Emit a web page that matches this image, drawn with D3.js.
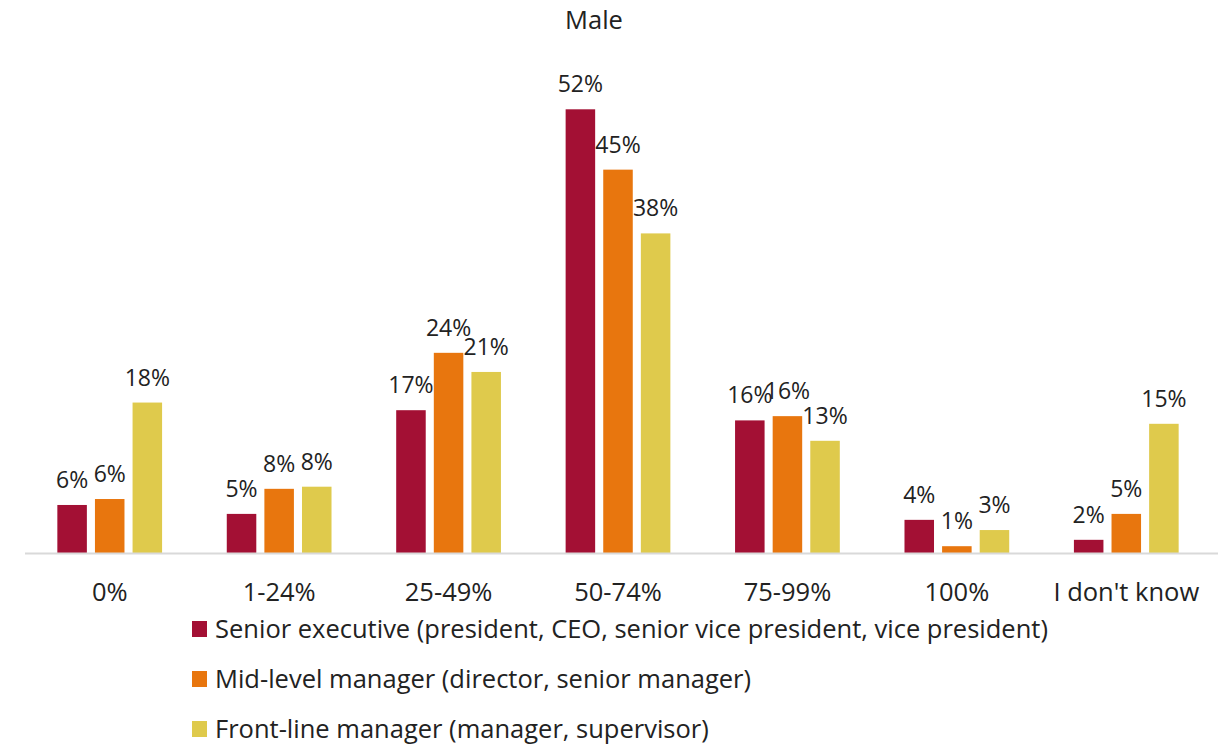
<!DOCTYPE html>
<html>
<head>
    <meta charset="utf-8">
    <script src="https://d3js.org/d3.v7.min.js"></script>
    <style>
        body { margin: 0; background: #fff; }
        text { font-family: "Open Sans", Lato, sans-serif; fill: #222; }
    </style>
</head>
<body>
    <svg id="mainsvg"></svg>
    <script type="text/javascript">
    // categories and series (share of respondents, %)
    const categories = ["0%", "1-24%", "25-49%", "50-74%", "75-99%", "100%", "I don't know"];
    const seriesNames = [
        "Senior executive (president, CEO, senior vice president, vice president)",
        "Mid-level manager (director, senior manager)",
        "Front-line manager (manager, supervisor)"
    ];
    const seniorValues = [5.65, 4.6, 16.8, 52.2, 15.6, 3.9, 1.55];
    const midValues    = [6.35, 7.55, 23.55, 45.1, 16.1, 0.8, 4.6];
    const frontValues  = [17.7, 7.8, 21.3, 37.6, 13.2, 2.7, 15.2];
    const colors = ["#A31034", "#E8760E", "#DFCA4C"];
    const title = "Male";

    const seriesValues = [seniorValues, midValues, frontValues];

    // chart settings
    const width = 1221, height = 745;
    const margin = { top: 43, right: 10, bottom: 192, left: 25 };
    const baseY = height - margin.bottom;

    const svg = d3.select("#mainsvg")
        .attr("width", width)
        .attr("height", height)
        .attr("viewBox", [0, 0, width, height]);

    const x0 = d3.scaleBand()
        .domain(categories)
        .range([margin.left, 1211]);

    const x1 = d3.scaleBand()
        .domain(d3.range(seriesNames.length))
        .range([0, x0.bandwidth()])
        .paddingInner(0.215)
        .paddingOuter(0.86);

    const y = d3.scaleLinear()
        .domain([0, 60])
        .range([baseY, baseY - 510]);

    // title
    svg.append("text")
        .attr("x", 594)
        .attr("y", 29)
        .attr("text-anchor", "middle")
        .style("font-size", "25.5px")
        .text(title);

    // bars
    const groups = svg.append("g")
        .selectAll("g")
        .data(categories)
        .join("g")
        .attr("transform", d => `translate(${x0(d)},0)`);

    const cells = groups.selectAll("g")
        .data((d, i) => seriesValues.map((vals, s) => ({ s, value: vals[i] })))
        .join("g");

    cells.append("rect")
        .attr("x", d => x1(d.s))
        .attr("y", d => y(d.value))
        .attr("width", x1.bandwidth())
        .attr("height", d => y(0) - y(d.value))
        .attr("fill", d => colors[d.s]);

    cells.append("text")
        .attr("x", d => x1(d.s) + x1.bandwidth() / 2)
        .attr("y", d => y(d.value) - 17)
        .attr("text-anchor", "middle")
        .style("font-size", "23px")
        .text(d => Math.round(d.value) + "%");

    // x axis
    const axis = d3.axisBottom(x0).tickSize(0).tickPadding(30);
    const gx = svg.append("g")
        .attr("transform", `translate(0,${baseY})`)
        .call(axis);
    gx.select(".domain").remove();
    gx.selectAll("text")
        .style("font-size", "25.5px")
        .style("font-family", "'Open Sans', sans-serif")
        .attr("fill", "#222");

    svg.append("line")
        .attr("x1", margin.left)
        .attr("x2", 1218)
        .attr("y1", baseY + 0.5)
        .attr("y2", baseY + 0.5)
        .attr("stroke", "#d9d9d9")
        .attr("stroke-width", 2);

    // legend
    const legend = svg.append("g")
        .selectAll("g")
        .data(seriesNames)
        .join("g")
        .attr("transform", (d, i) => `translate(192,${629 + i * 50})`);

    legend.append("rect")
        .attr("x", 0)
        .attr("y", -8)
        .attr("width", 15)
        .attr("height", 16)
        .attr("fill", (d, i) => colors[i]);

    legend.append("text")
        .attr("x", 23)
        .attr("y", 9)
        .style("font-size", "25.5px")
        .text(d => d);
    </script>
</body>
</html>
